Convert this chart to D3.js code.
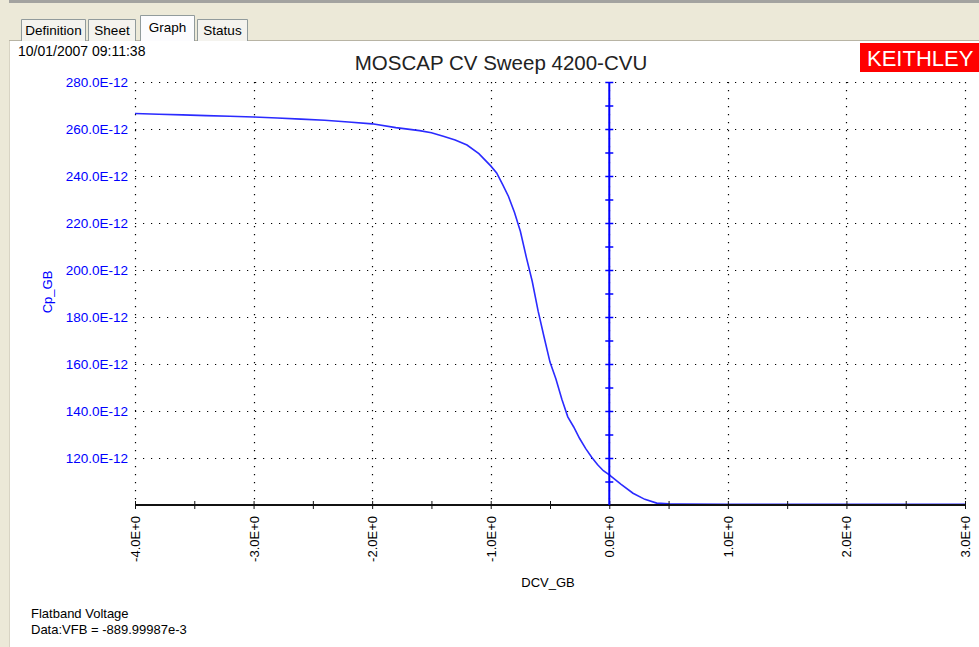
<!DOCTYPE html>
<html>
<head>
<meta charset="utf-8">
<script src="https://cdn.jsdelivr.net/npm/d3@7"></script>
<style>
  body { margin: 0; background: #fff; }
  svg { display: block; font-family: "Liberation Sans", Arial, sans-serif; }
</style>
</head>
<body>
<div id="graphic"></div>
<script>
// Sweep data: gate voltage (V) and capacitance (E-12 F)
const voltage = [-4.0, -3.8, -3.6, -3.4, -3.2, -3.0, -2.8, -2.6, -2.4, -2.2, -2.0, -1.8, -1.6, -1.5, -1.4, -1.3,
  -1.2, -1.1, -1.0, -0.95, -0.9, -0.85, -0.8, -0.75, -0.7, -0.65, -0.6, -0.55, -0.5, -0.45, -0.4, -0.35,
  -0.3, -0.25, -0.2, -0.15, -0.1, -0.05, 0.0, 0.1, 0.2, 0.3, 0.4, 0.5, 0.6, 1.0, 1.5, 2.0, 2.5, 3.0];
const capacitance = [266.6, 266.3, 266.0, 265.7, 265.4, 265.1, 264.7, 264.2, 263.7, 263.0, 262.2, 260.6, 259.3, 258.4, 256.9, 255.3,
  253.2, 249.5, 244.3, 241.3, 236.4, 231.3, 224.6, 216.5, 205.5, 195.2, 182.5, 171.5, 160.8, 153.6, 145.0, 137.5,
  133.2, 128.3, 124.1, 120.4, 117.2, 114.6, 112.8, 108.8, 105.0, 102.4, 100.8, 100.5, 100.4, 100.3, 100.3, 100.3, 100.3, 100.3];

const xTicks = [-4, -3, -2, -1, 0, 1, 2, 3];
const xMinorTicks = [-4, -3.5, -3, -2.5, -2, -1.5, -1, -0.5, 0, 0.5, 1, 1.5, 2, 2.5, 3];
const yTicks = [120, 140, 160, 180, 200, 220, 240, 260, 280];
const yMinorTicks = [110, 120, 130, 140, 150, 160, 170, 180, 190, 200, 210, 220, 230, 240, 250, 260, 270, 280];
const tabs = ["Definition", "Sheet", "Graph", "Status"];

const width = 979, height = 647;
const svg = d3.select("#graphic").append("svg")
  .attr("width", width).attr("height", height);

// Window chrome
svg.append("rect").attr("x", 0).attr("y", 0).attr("width", width).attr("height", 41).attr("fill", "#ece9d8");
svg.append("rect").attr("x", 0).attr("y", 0).attr("width", width).attr("height", 3).attr("fill", "#a3a3a0");
svg.append("rect").attr("x", 0).attr("y", 0).attr("width", 9).attr("height", height).attr("fill", "#ece9d8");
svg.append("line").attr("x1", 9.5).attr("x2", 9.5).attr("y1", 41).attr("y2", height).attr("stroke", "#d8d4c4");
svg.append("line").attr("x1", 9).attr("x2", width).attr("y1", 40.5).attr("y2", 40.5).attr("stroke", "#b8b4a4");

const tabBoxes = [[21, 86], [88, 136], [140, 195], [197, 248]];
tabs.forEach((t, i) => {
  const [x0, x1] = tabBoxes[i];
  const sel = t === "Graph";
  const top = sel ? 15 : 19;
  svg.append("path")
    .attr("d", `M${x0 + 0.5},41 V${top + 0.5} H${x1 - 0.5} V41`)
    .attr("fill", sel ? "#fcfcfe" : "#f4f3ee")
    .attr("stroke", "#919b9c");
  svg.append("text")
    .attr("x", (x0 + x1) / 2).attr("y", sel ? 32 : 35)
    .attr("text-anchor", "middle")
    .attr("font-size", 13.5).attr("fill", "#000")
    .text(t);
});

svg.append("text").attr("x", 18).attr("y", 56)
  .attr("font-size", 14).attr("fill", "#000")
  .text("10/01/2007 09:11:38");

// Title and logo
svg.append("text").attr("x", 501).attr("y", 70)
  .attr("text-anchor", "middle").attr("font-size", 20.5).attr("fill", "#222")
  .text("MOSCAP CV Sweep 4200-CVU");
svg.append("rect").attr("x", 860).attr("y", 43).attr("width", 119).attr("height", 29).attr("fill", "#ff0000");
svg.append("text").attr("x", 867).attr("y", 66)
  .attr("font-size", 22).attr("fill", "#fff")
  .text("KEITHLEY");

// Scales
const x = d3.scaleLinear().domain([-4, 3]).range([135, 965]);
const y = d3.scaleLinear().domain([100, 280]).range([505, 82]);

// Dotted grid
const grid = svg.append("g").attr("stroke", "#000").attr("stroke-width", 1.2)
  .attr("stroke-dasharray", "1.2,6.8");
grid.selectAll(".hg").data(yTicks).join("line")
  .attr("x1", x(-4)).attr("x2", x(3))
  .attr("y1", d => Math.round(y(d)) + 0.5).attr("y2", d => Math.round(y(d)) + 0.5);
grid.selectAll(".vg").data(xTicks).join("line")
  .attr("x1", d => Math.round(x(d)) + 0.5).attr("x2", d => Math.round(x(d)) + 0.5)
  .attr("y1", y(280)).attr("y2", y(100));

// Y axis labels (blue)
const yAxis = d3.axisLeft(y).tickValues(yTicks).tickSize(0).tickPadding(0)
  .tickFormat(d => d + ".0E-12");
const yg = svg.append("g").attr("transform", `translate(${x(-4) - 7},0)`).call(yAxis);
yg.select(".domain").remove();
yg.selectAll("text").attr("fill", "#0000ff").attr("font-size", 13.5)
  .attr("font-family", "Liberation Sans, Arial, sans-serif");

svg.append("text")
  .attr("transform", `translate(52,${292}) rotate(-90)`)
  .attr("text-anchor", "middle").attr("font-size", 13).attr("fill", "#0000ff")
  .text("Cp_GB");

// Curve
const line = d3.line().x(d => x(d[0])).y(d => y(d[1]));
svg.append("path")
  .datum(voltage.map((v, i) => [v, capacitance[i]]))
  .attr("d", line)
  .attr("fill", "none").attr("stroke", "#2b2bff").attr("stroke-width", 1.6);

// Bottom X axis
const xAxis = d3.axisBottom(x).tickValues(xMinorTicks).tickSize(3).tickFormat("");
const xg = svg.append("g").attr("transform", `translate(0,${y(100)})`).call(xAxis);
xg.select(".domain").attr("stroke", "#111").attr("stroke-width", 2).attr("d", `M${x(-4)},0H${x(3)}`);
xg.selectAll(".tick line").attr("stroke", "#111").attr("y1", -4).attr("y2", 4);

const xl = svg.append("g");
xl.selectAll("text").data(xTicks).join("text")
  .attr("transform", d => `translate(${x(d) + 5},516) rotate(-90)`)
  .attr("text-anchor", "end").attr("font-size", 13).attr("fill", "#000")
  .text(d => d + ".0E+0");

svg.append("text").attr("x", 548).attr("y", 587)
  .attr("text-anchor", "middle").attr("font-size", 13).attr("fill", "#000")
  .text("DCV_GB");

// Zero-volt axis (blue)
const zAxis = d3.axisRight(y).tickValues(yMinorTicks).tickSize(4).tickFormat("");
const zg = svg.append("g").attr("transform", `translate(${x(0)},0)`).call(zAxis);
zg.select(".domain").attr("stroke", "#0000ff").attr("stroke-width", 2)
  .attr("d", `M0,${y(280)}V${y(100)}`);
zg.selectAll(".tick line").attr("stroke", "#0000ff").attr("stroke-width", 1.5).attr("x1", -4).attr("x2", 4);

// Notes
svg.append("text").attr("x", 31).attr("y", 618).attr("font-size", 13).attr("fill", "#000")
  .text("Flatband Voltage");
svg.append("text").attr("x", 31).attr("y", 634).attr("font-size", 13).attr("fill", "#000")
  .text("Data:VFB = -889.99987e-3");
</script>
</body>
</html>
